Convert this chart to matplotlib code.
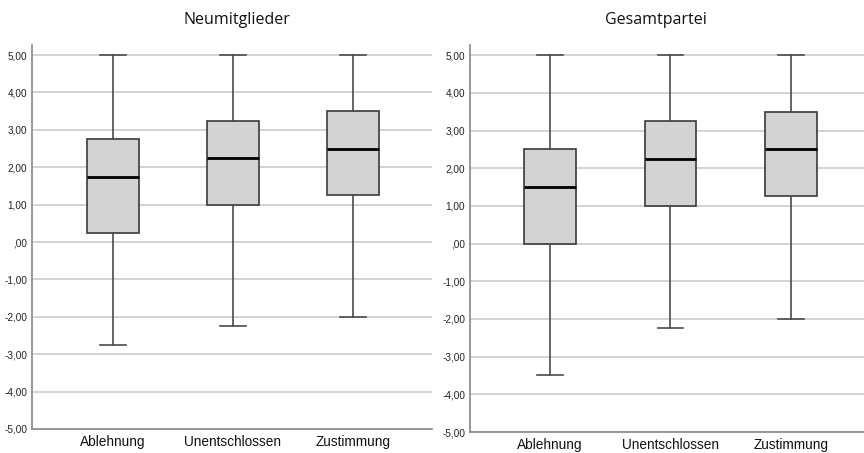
import matplotlib
matplotlib.use("Agg")
import matplotlib.pyplot as plt

categories = ["Ablehnung", "Unentschlossen", "Zustimmung"]

# Neumitglieder: whislo, q1, median, q3, whishi
neu_whislo = [-2.75, -2.25, -2.0]
neu_q1 = [0.25, 1.0, 1.25]
neu_med = [1.75, 2.25, 2.5]
neu_q3 = [2.75, 3.25, 3.5]
neu_whishi = [5.0, 5.0, 5.0]

# Gesamtpartei
ges_whislo = [-3.5, -2.25, -2.0]
ges_q1 = [0.0, 1.0, 1.25]
ges_med = [1.5, 2.25, 2.5]
ges_q3 = [2.5, 3.25, 3.5]
ges_whishi = [5.0, 5.0, 5.0]

titles = ["Neumitglieder", "Gesamtpartei"]
yticks = [5, 4, 3, 2, 1, 0, -1, -2, -3, -4, -5]


def fmt(v):
    s = f"{v:.2f}".replace(".", ",")
    if s.startswith("0,"):
        s = s[1:]
    return s


fig = plt.figure(figsize=(8.64, 4.53), dpi=100)
axes_pos = [
    [32 / 864, 24 / 453, 400 / 864, 384 / 453],
    [470 / 864, 21 / 453, 394 / 864, 387 / 453],
]
xlims = [(-0.673, 2.658), (-0.664, 2.606)]
data = [
    (neu_whislo, neu_q1, neu_med, neu_q3, neu_whishi),
    (ges_whislo, ges_q1, ges_med, ges_q3, ges_whishi),
]
title_x = [237 / 864, 656 / 864]

for i in range(2):
    ax = fig.add_axes(axes_pos[i])
    lo, q1, med, q3, hi = data[i]
    stats = []
    for j, c in enumerate(categories):
        stats.append(dict(label=c, whislo=lo[j], q1=q1[j], med=med[j],
                          q3=q3[j], whishi=hi[j], fliers=[]))
    ax.bxp(stats, positions=range(3), widths=0.43, capwidths=0.215,
           patch_artist=True, showfliers=False,
           boxprops=dict(facecolor="#d3d3d3", edgecolor="#3a3a3a", linewidth=1.2),
           medianprops=dict(color="black", linewidth=2.0),
           whiskerprops=dict(color="#4a4a4a", linewidth=1.2),
           capprops=dict(color="#4a4a4a", linewidth=1.2))
    ax.set_xlim(*xlims[i])
    ax.set_ylim(-5, 5.27)
    ax.set_yticks(yticks)
    ax.set_yticklabels([fmt(v) for v in yticks], fontsize=7.2,
                       family="Liberation Sans", color="#222222")
    ax.set_xticks(range(3))
    ax.set_xticklabels(categories, fontsize=9.8, family="Liberation Sans",
                       color="#111111")
    ax.tick_params(axis="both", length=0)
    ax.tick_params(axis="y", pad=3.5)
    ax.tick_params(axis="x", pad=4)
    ax.yaxis.grid(True, color="#d0d0d0", linewidth=1.3)
    ax.set_axisbelow(True)
    for s in ["top", "right"]:
        ax.spines[s].set_visible(False)
    for s in ["left", "bottom"]:
        ax.spines[s].set_color("#888888")
        ax.spines[s].set_linewidth(1.2)
    fig.text(title_x[i], 1 - 20 / 453, titles[i], ha="center", va="center",
             fontsize=11.5, family="Open Sans", color="#111111")

fig.savefig("out.png", dpi=100)
